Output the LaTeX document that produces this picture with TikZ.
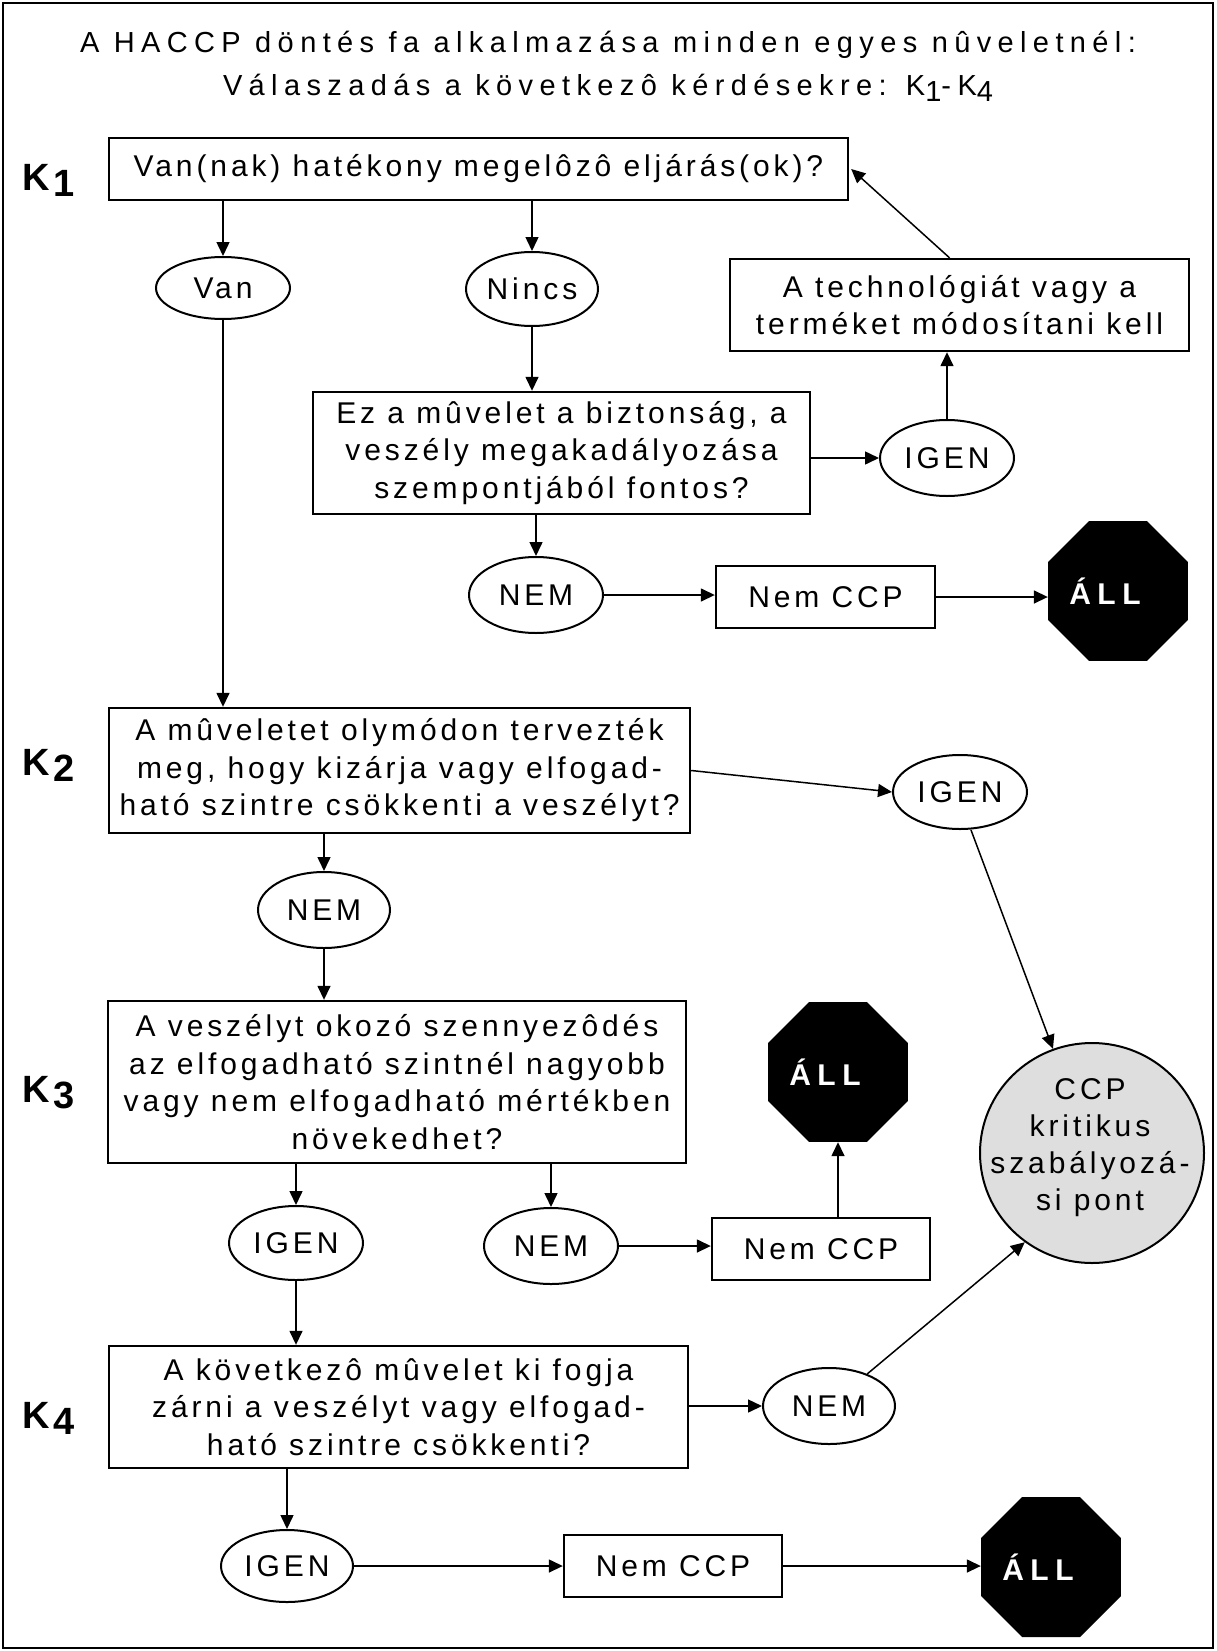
\documentclass[tikz,border=0pt]{standalone}
\usepackage{fontspec}
\setmainfont{Liberation Sans}[LetterSpace=13]
\newfontfamily\klabfam{Liberation Sans}
\newfontfamily\titlefam{Liberation Sans}[LetterSpace=22]
\usetikzlibrary{shapes.geometric,arrows.meta,calc}
\definecolor{ccpgray}{RGB}{222,222,222}
\newcommand\txtsize{\fontsize{30}{37.5}\selectfont}
\newcommand\titlesize{\titlefam\fontsize{29}{43}\selectfont}
\newcommand\stopfont{\fontsize{30}{32}\selectfont\bfseries\addfontfeature{LetterSpace=22}}
\newcommand\klabfont{\klabfam\fontsize{38}{40}\selectfont\bfseries}
\newcommand\ksub[1]{\kern4pt\raisebox{-6pt}{\fontsize{38}{38}\selectfont #1}}
\tikzset{
  box/.style={draw, line width=2.4pt, rectangle, inner sep=0pt, align=center, font=\txtsize},
  oval/.style={draw, ellipse, line width=2pt, inner sep=0pt, font=\txtsize},
  stopsign/.style={regular polygon, regular polygon sides=8, fill=black, minimum size=151.5pt, inner sep=0pt, text=white, font=\stopfont},
  arr/.style={line width=1.5pt, -{Triangle[length=14pt,width=13pt]}},
  klab/.style={anchor=base west, inner sep=0pt, font=\klabfont},
}
\begin{document}
\begin{tikzpicture}[x=1pt,y=-1pt]
\useasboundingbox (0,0) rectangle (1217,1651);
\draw[line width=2pt] (3,3) rectangle (1213,1648);

% title
\node[font=\titlesize, align=center, inner sep=0pt] (title) at (608,66)
  {A HACCP döntés fa alkalmazása minden egyes nûveletnél:\\Válaszadás a következô kérdésekre: K\raisebox{-6pt}{1}-K\raisebox{-6pt}{4}};

% K labels
\node[klab] (k1lab) at (22,190) {K\ksub{1}};
\node[klab] (k2lab) at (22,775) {K\ksub{2}};
\node[klab] (k3lab) at (22,1102) {K\ksub{3}};
\node[klab] (k4lab) at (22,1428) {K\ksub{4}};

% K1 level
\node[box, minimum width=739pt, minimum height=62pt] (q1) at (478.5,169) {Van(nak) hatékony megelôzô eljárás(ok)?};
\node[oval, minimum width=134pt, minimum height=62pt] (van) at (223,288) {Van};
\node[oval, minimum width=132pt, minimum height=74pt] (nincs) at (532,289) {Nincs};
\node[box, minimum width=459pt, minimum height=92pt] (tech) at (959.5,305) {A technológiát vagy a\\terméket módosítani kell};
\node[box, minimum width=497pt, minimum height=122pt] (q2) at (561.5,453) {Ez a mûvelet a biztonság, a\\veszély megakadályozása\\szempontjából fontos?};
\node[oval, minimum width=134pt, minimum height=76pt] (igen1) at (947,458) {IGEN};
\node[oval, minimum width=134pt, minimum height=76pt] (nem1) at (536,595) {NEM};
\node[box, minimum width=219pt, minimum height=62pt] (nccp1) at (825.5,597) {Nem CCP};
\node[stopsign] (all1) at (1118,591) {ÁLL\kern26pt};

% K2 level
\node[box, minimum width=581pt, minimum height=125pt] (k2) at (399.5,770.5) {A mûveletet olymódon tervezték\\meg, hogy kizárja vagy elfogad-\\ható szintre csökkenti a veszélyt?};
\node[oval, minimum width=134pt, minimum height=74pt] (igen2) at (960,792) {IGEN};
\node[oval, minimum width=132pt, minimum height=76pt] (nem2) at (324,910) {NEM};

% K3 level
\node[box, minimum width=578pt, minimum height=162pt] (k3) at (397,1082) {A veszélyt okozó szennyezôdés\\az elfogadható szintnél nagyobb\\vagy nem elfogadható mértékben\\növekedhet?};
\node[stopsign] (all2) at (838,1072) {ÁLL\kern26pt};
\node[draw, ellipse, line width=2pt, fill=ccpgray, inner sep=0pt, minimum width=224pt, minimum height=220pt] (ccp) at (1092,1153) {};
\node[align=center, inner sep=0pt, font=\fontsize{30}{37}\selectfont] (ccptext) at (1090,1148) {CCP\\kritikus\\szabályozá-\\si pont};
\node[oval, minimum width=134pt, minimum height=74pt] (igen3) at (296,1243) {IGEN};
\node[oval, minimum width=134pt, minimum height=76pt] (nem3) at (551,1246) {NEM};
\node[box, minimum width=218pt, minimum height=62pt] (nccp2) at (821,1249) {Nem CCP};

% K4 level
\node[box, minimum width=579pt, minimum height=122pt] (k4) at (398.5,1407) {A következô mûvelet ki fogja\\zárni a veszélyt vagy elfogad-\\ható szintre csökkenti?};
\node[oval, minimum width=132pt, minimum height=76pt] (nem4) at (829,1406) {NEM};
\node[oval, minimum width=132pt, minimum height=72pt] (igen4) at (287,1566) {IGEN};
\node[box, minimum width=218pt, minimum height=62pt] (nccp3) at (673,1566) {Nem CCP};
\node[stopsign] (all3) at (1051,1567) {ÁLL\kern26pt};

% connectors
\draw[arr] (q1.south -| van.north) -- (van.north);
\draw[arr] (q1.south -| nincs.north) -- (nincs.north);
\draw[arr] (van.south) -- (van.south |- k2.north);
\draw[arr] (nincs.south) -- (nincs.south |- q2.north);
\draw[arr] (q2.east |- igen1.west) -- (igen1.west);
\draw[arr] (igen1.north) -- (igen1.north |- tech.south);
\draw[arr] ([xshift=-10pt]tech.north) -- ([xshift=2pt]q1.east);
\draw[arr] (q2.south -| nem1.north) -- (nem1.north);
\draw[arr] (nem1.east) -- (nem1.east -| nccp1.west);
\draw[arr] (nccp1.east) -- (nccp1.east -| all1.west);

\draw[arr] (k2.east) -- (igen2.west);
\draw[arr] ([xshift=11pt]igen2.south) -- (ccp);
\draw[arr] (k2.south -| nem2.north) -- (nem2.north);
\draw[arr] (nem2.south) -- (nem2.south |- k3.north);

\draw[arr] (k3.south -| igen3.north) -- (igen3.north);
\draw[arr] (k3.south -| nem3.north) -- (nem3.north);
\draw[arr] (nem3.east) -- (nem3.east -| nccp2.west);
\draw[arr] (nccp2.north -| all2.south) -- (all2.south);
\draw[arr] (igen3.south) -- (igen3.south |- k4.north);

\draw[arr] (k4.east |- nem4.west) -- (nem4.west);
\draw[arr] (nem4.40) -- (ccp.233);
\draw[arr] (k4.south -| igen4.north) -- (igen4.north);
\draw[arr] (igen4.east) -- (igen4.east -| nccp3.west);
\draw[arr] (nccp3.east) -- (nccp3.east -| all3.west);
\end{tikzpicture}
\end{document}
